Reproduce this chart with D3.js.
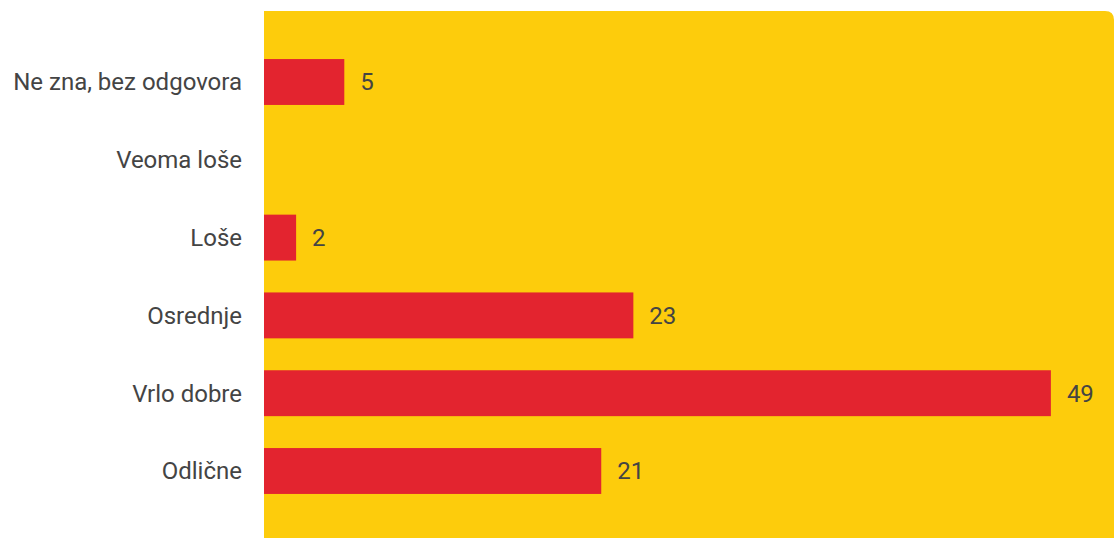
<!DOCTYPE html>
<html><head><meta charset="utf-8">
<script src="https://cdn.jsdelivr.net/npm/d3@7"></script>
<style>body{margin:0;background:#fff;}svg{display:block;}</style>
</head><body>
<svg id="c" width="1114" height="538"></svg>
<script>
const categories = ["Ne zna, bez odgovora","Veoma loše","Loše","Osrednje","Vrlo dobre","Odlične"];
const values = [5, 0, 2, 23, 49, 21];

const W = 1114, H = 538;
const plotLeft = 264, plotRight = 1114, plotTop = 11, plotBottom = 538;
const svg = d3.select("#c");
const x = d3.scaleLinear().domain([0, 52.93]).range([plotLeft, plotRight]);
const y = d3.scaleBand().domain(categories).range([43.1, 509.9]).paddingInner(0.41).paddingOuter(0.205);

const r = 9;
svg.append("path")
  .attr("d", `M${plotLeft},${plotTop} H${plotRight - r} Q${plotRight},${plotTop} ${plotRight},${plotTop + r} V${plotBottom} H${plotLeft} Z`)
  .attr("fill", "#FDCC0C");

const rows = categories.map((c,i)=>({c, v:values[i]})).filter(d=>d.v>0);

svg.selectAll("rect.bar").data(rows)
  .enter().append("rect").attr("class","bar")
  .attr("x", x(0)).attr("y", d=>y(d.c))
  .attr("width", d=>x(d.v)-x(0)).attr("height", y.bandwidth())
  .attr("fill", "#E3242F");

const font = "Roboto, sans-serif";
svg.selectAll("text.val").data(rows)
  .enter().append("text").attr("class","val")
  .attr("x", d=>x(d.v)+16).attr("y", d=>y(d.c)+y.bandwidth()/2)
  .attr("dy","0.35em").attr("font-family", font).attr("font-size", 24)
  .attr("fill", "#444").text(d=>d.v);

svg.selectAll("text.cat").data(categories).enter().append("text").attr("class","cat")
  .attr("x", plotLeft - 22).attr("y", d=>y(d)+y.bandwidth()/2)
  .attr("dy","0.35em").attr("text-anchor","end")
  .attr("font-family", font).attr("font-size", 24)
  .attr("fill", "#444").text(d=>d);
</script>
</body></html>
